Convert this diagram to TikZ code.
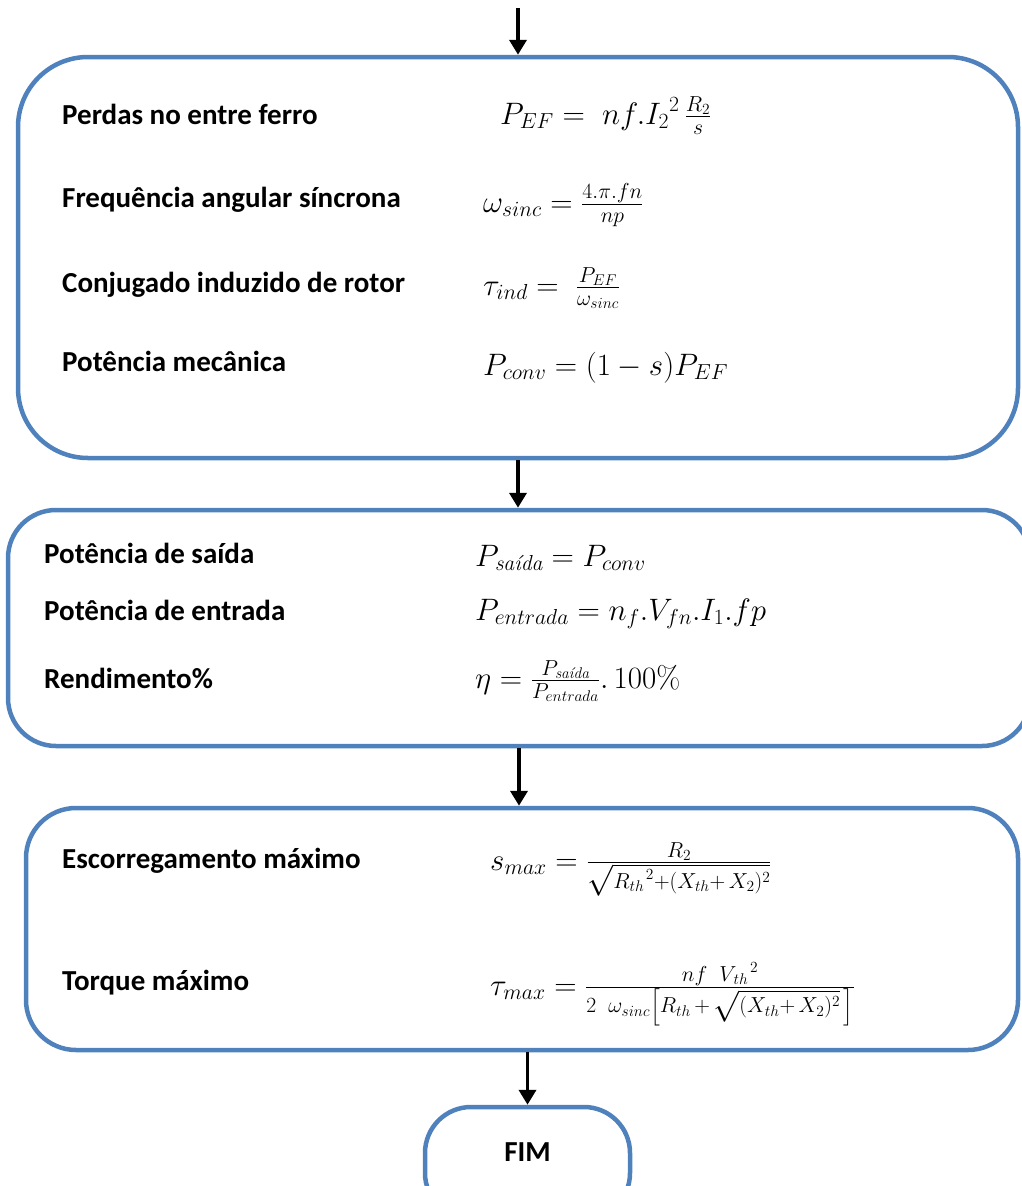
\RequirePackage{fix-cm}
\documentclass[tikz,border=0pt]{standalone}
\usepackage{amsmath}
\usepackage{fontspec}
\newfontfamily\labfont{Carlito}
\usetikzlibrary{arrows.meta}
\definecolor{boxblue}{HTML}{4F81BD}
\tikzset{
  stagebox/.style={draw=boxblue, line width=4.5pt, inner sep=0pt},
  flowarrow/.style={line width=3.8pt, -{Triangle[width=17pt,length=15pt]}},
  lab/.style={anchor=base west, inner sep=0pt, font=\labfont\bfseries\fontsize{29}{34}\selectfont},
  eq/.style={anchor=base west, inner sep=0pt, font=\fontsize{31}{37}\selectfont},
}
\begin{document}
\begin{tikzpicture}[x=1pt, y=-1pt]
\useasboundingbox (0,0) rectangle (1022,1186);

% process stages
\node[stagebox, rounded corners=70pt, minimum width=1000pt, minimum height=401pt] (box1) at (518,257.5) {};
\node[stagebox, rounded corners=48pt, minimum width=1022pt, minimum height=236pt] (box2) at (519,628) {};
\node[stagebox, rounded corners=50pt, minimum width=992pt, minimum height=242pt] (box3) at (522,929) {};
\node[stagebox, rounded corners=46pt, minimum width=205pt, minimum height=112pt] (fim) at (527.5,1163) {};
\node[lab, anchor=base] (fimtxt) at (527.5,1161) {FIM};

% connectors
\coordinate (start) at (518,8);
\draw[flowarrow] (start) -- (box1.north);
\draw[flowarrow] (box1.south) -- (box1.south |- box2.north);
\draw[flowarrow] (box2.south) -- (box2.south |- box3.north);
\draw[flowarrow] (fim.north |- box3.south) -- (fim.north);

% stage 1
\node[lab] (l11) at (62,124) {Perdas no entre ferro};
\node[lab] (l12) at (62,207) {Frequência angular síncrona};
\node[lab] (l13) at (62,292) {Conjugado induzido de rotor};
\node[lab] (l14) at (62,371) {Potência mecânica};
\node[eq] (e11) at (500,124) {$P_{EF} =\; nf.{I_2}^2\,\frac{R_2}{s}$};
\node[eq] (e12) at (483,212) {$\omega_{sinc} = \frac{4.\pi.fn}{np}$};
\node[eq] (e13) at (483,295) {$\tau_{ind} =\; \frac{P_{EF}}{\omega_{sinc}}$};
\node[eq] (e14) at (483,375) {$P_{conv} = (1-s)P_{EF}$};

% stage 2
\node[lab] (l21) at (44,563) {Potência de saída};
\node[lab] (l22) at (44,620) {Potência de entrada};
\node[lab] (l23) at (44,688) {Rendimento\%};
\node[eq] (e21) at (475,566) {$P_{\textit{saída}} = P_{conv}$};
\node[eq] (e22) at (475,620) {$P_{entrada} = n_f.V_{fn}.I_1.fp$};
\node[eq] (e23) at (475,688) {$\eta = \frac{P_{\textit{saída}}}{P_{entrada}}.\,100\%$};

% stage 3
\node[lab] (l31) at (62,868) {Escorregamento máximo};
\node[lab] (l32) at (62,990) {Torque máximo};
\node[eq] (e31) at (490,870) {$s_{max} = \frac{R_2}{\sqrt{{R_{th}}^{\mkern2mu 2}+(X_{th}+\,X_2)^2}}$};
\node[eq] (e32) at (490,995) {$\tau_{max} = \frac{nf\;\;{V_{\mkern2mu th}}^{\mkern2mu 2}}{2\;\;\omega_{sinc}\left[R_{th}\,+\,\sqrt{(X_{th}+\,X_2)^2}\,\right]}$};
\end{tikzpicture}
\end{document}
